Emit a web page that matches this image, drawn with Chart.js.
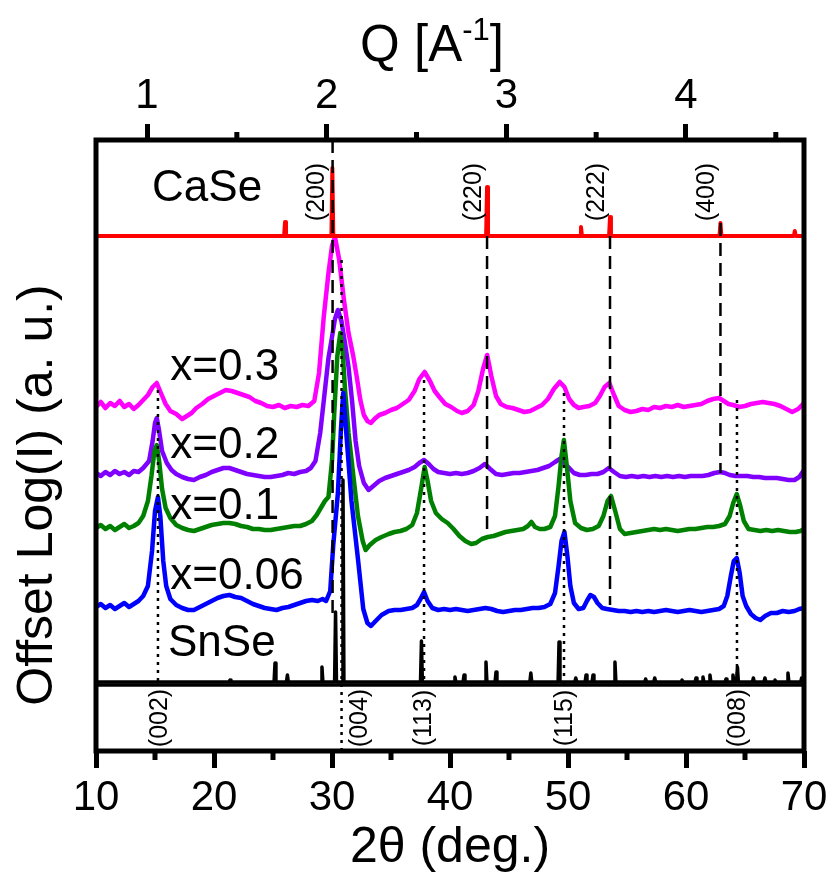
<!DOCTYPE html>
<html>
<head>
<meta charset="utf-8">
<script src="https://cdn.jsdelivr.net/npm/chart.js@4.4.0/dist/chart.umd.min.js"></script>
<style>
  html, body { margin: 0; padding: 0; background: #fff; }
  canvas { display: block; }
</style>
</head>
<body>
<canvas id="grafico" width="833" height="873"></canvas>
<script>
// eixo inferior 2θ e eixo superior Q
const ticks2t = [10, 20, 30, 40, 50, 60, 70];
const minor2t = [15, 25, 35, 45, 55, 65];
const ticksQ = [1, 2, 3, 4];
const minorQ = [1.5, 2.5, 3.5, 4.5];

// x = 0.3 (magenta)
const ang03 = [10.0, 10.4, 10.8, 11.2, 11.6, 12.0, 12.4, 12.8, 13.2, 13.6, 14.0, 14.4, 14.8, 15.15, 15.5, 15.9, 16.3, 16.8, 17.3, 17.7, 18.1, 18.5, 19.0, 19.5, 20.0, 20.5, 21.0, 21.5, 22.0, 22.5, 23.0, 23.5, 24.0, 24.5, 25.0, 25.5, 26.0, 26.5, 27.0, 27.5, 28.0, 28.5, 28.9, 29.3, 29.7, 30.0, 30.25, 30.6, 31.0, 31.4, 31.8, 32.1, 32.4, 32.7, 33.0, 33.3, 33.6, 34.0, 34.5, 35.0, 35.5, 36.0, 36.5, 37.0, 37.4, 37.85, 38.3, 38.7, 39.1, 39.6, 40.1, 40.6, 41.0, 41.5, 42.0, 42.4, 42.8, 43.15, 43.5, 43.9, 44.3, 44.8, 45.3, 45.8, 46.3, 46.8, 47.3, 47.8, 48.3, 48.8, 49.3, 49.7, 50.1, 50.5, 50.9, 51.3, 51.8, 52.3, 52.7, 53.1, 53.5, 53.9, 54.3, 54.8, 55.3, 55.8, 56.3, 56.8, 57.3, 57.8, 58.3, 58.8, 59.3, 59.8, 60.3, 60.8, 61.3, 61.8, 62.3, 62.8, 63.2, 63.6, 64.0, 64.5, 65.0, 65.5, 66.0, 66.5, 67.0, 67.5, 68.0, 68.5, 69.0, 69.5, 70.0];
const int03 = [344, 349, 343, 348, 345, 350, 344, 347, 342, 346, 351, 356, 364, 368, 358, 347, 340, 337, 332, 335, 338, 343, 347, 352, 355, 358, 361, 360, 358, 356, 354, 350, 348, 345, 344, 346, 343, 345, 344, 346, 345, 350, 378, 434, 478, 505, 514, 492, 452, 418, 395, 374, 351, 336, 330, 328, 332, 336, 338, 341, 343, 347, 351, 360, 372, 379, 370, 360, 354, 347, 344, 340, 338, 340, 346, 360, 382, 396, 375, 355, 347, 344, 343, 341, 339, 340, 343, 346, 352, 362, 369, 364, 352, 346, 343, 344, 345, 348, 355, 364, 368, 356, 345, 341, 339, 340, 342, 341, 344, 343, 345, 344, 346, 344, 345, 346, 347, 350, 352, 353, 350, 347, 346, 344, 345, 347, 348, 349, 348, 347, 345, 342, 339, 342, 348];

// x = 0.2 (roxo)
const ang02 = [10.0, 10.4, 10.8, 11.2, 11.6, 12.0, 12.4, 12.8, 13.2, 13.6, 14.0, 14.5, 14.8, 15.0, 15.15, 15.35, 15.6, 16.0, 16.4, 16.8, 17.3, 17.8, 18.3, 18.8, 19.3, 19.8, 20.3, 20.8, 21.3, 21.8, 22.3, 22.8, 23.3, 23.8, 24.3, 24.8, 25.3, 25.8, 26.3, 26.8, 27.3, 27.8, 28.2, 28.6, 29.0, 29.3, 29.7, 30.0, 30.25, 30.5, 30.8, 31.1, 31.4, 31.7, 32.0, 32.3, 32.7, 33.1, 33.5, 34.0, 34.5, 35.0, 35.5, 36.0, 36.5, 37.0, 37.4, 37.8, 38.2, 38.6, 39.0, 39.5, 40.0, 40.5, 41.0, 41.5, 42.0, 42.5, 42.95, 43.4, 43.9, 44.4, 44.9, 45.4, 45.9, 46.4, 46.9, 47.4, 47.9, 48.4, 48.9, 49.3, 49.7, 50.1, 50.5, 51.0, 51.5, 52.0, 52.5, 53.0, 53.45, 53.9, 54.4, 54.9, 55.4, 55.9, 56.4, 56.9, 57.4, 57.9, 58.4, 58.9, 59.4, 59.9, 60.4, 60.9, 61.4, 61.9, 62.4, 62.9, 63.3, 63.7, 64.2, 64.7, 65.2, 65.7, 66.2, 66.7, 67.2, 67.7, 68.2, 68.7, 69.2, 69.6, 70.0];
const int02 = [278, 275, 279, 276, 280, 277, 279, 276, 280, 279, 283, 290, 310, 328, 333, 320, 300, 288, 281, 277, 274, 272, 271, 274, 276, 279, 281, 283, 283, 281, 279, 277, 276, 275, 274, 274, 275, 276, 278, 277, 279, 280, 283, 290, 318, 350, 393, 414, 432, 441, 430, 408, 384, 350, 310, 285, 268, 261, 265, 270, 273, 275, 277, 279, 281, 284, 288, 291, 287, 282, 279, 278, 277, 278, 277, 278, 280, 283, 287, 282, 277, 276, 277, 278, 278, 279, 280, 281, 283, 285, 289, 292, 288, 283, 278, 276, 276, 277, 277, 279, 283, 279, 275, 274, 275, 274, 275, 274, 275, 274, 275, 274, 275, 274, 275, 275, 275, 276, 278, 279, 278, 276, 275, 275, 275, 274, 274, 273, 273, 273, 272, 271, 271, 274, 281];

// x = 0.1 (verde)
const ang01 = [10.0, 10.4, 10.8, 11.2, 11.6, 12.0, 12.4, 12.8, 13.2, 13.6, 14.0, 14.4, 14.7, 14.95, 15.15, 15.35, 15.6, 15.9, 16.3, 16.8, 17.3, 17.8, 18.3, 18.8, 19.3, 19.8, 20.3, 20.8, 21.3, 21.8, 22.3, 22.8, 23.3, 23.8, 24.3, 24.8, 25.3, 25.8, 26.3, 26.8, 27.3, 27.8, 28.3, 28.7, 29.1, 29.4, 29.7, 30.0, 30.2, 30.45, 30.7, 30.9, 31.1, 31.4, 31.85, 32.2, 32.6, 32.85, 33.2, 33.7, 34.2, 34.8, 35.3, 35.8, 36.3, 36.8, 37.2, 37.55, 37.85, 38.1, 38.4, 38.8, 39.3, 39.8, 40.3, 40.8, 41.3, 41.8, 42.2, 42.7, 43.2, 43.7, 44.2, 44.7, 45.2, 45.7, 46.2, 46.6, 46.9, 47.2, 47.6, 48.0, 48.5, 48.9, 49.2, 49.45, 49.65, 49.9, 50.2, 50.6, 51.1, 51.6, 52.1, 52.6, 53.0, 53.35, 53.65, 54.0, 54.4, 54.8, 55.3, 55.8, 56.3, 56.8, 57.3, 57.8, 58.3, 58.8, 59.3, 59.8, 60.3, 60.8, 61.3, 61.8, 62.3, 62.8, 63.3, 63.7, 64.0, 64.3, 64.6, 64.9, 65.3, 65.8, 66.3, 66.8, 67.3, 67.8, 68.3, 68.8, 69.3, 69.7, 70.0];
const int01 = [223, 226, 222, 225, 221, 224, 227, 223, 225, 228, 235, 250, 275, 300, 306, 290, 262, 243, 233, 226, 223, 221, 220, 222, 224, 226, 227, 228, 228, 227, 225, 224, 222, 222, 221, 221, 222, 223, 224, 225, 225, 227, 230, 236, 244, 250, 254, 290, 340, 395, 418, 400, 362, 318, 271, 235, 210, 201, 206, 211, 214, 217, 219, 220, 222, 226, 238, 262, 284, 270, 250, 238, 232, 228, 222, 215, 210, 207, 208, 212, 214, 215, 217, 219, 220, 221, 222, 225, 229, 224, 222, 222, 224, 235, 265, 295, 311, 285, 250, 228, 223, 221, 222, 225, 235, 250, 255, 240, 222, 217, 218, 219, 220, 221, 222, 221, 222, 221, 220, 221, 222, 222, 223, 224, 224, 225, 227, 235, 248, 257, 245, 230, 222, 221, 220, 221, 220, 221, 220, 219, 219, 220, 222];

// x = 0.06 (azul)
const ang006 = [10.0, 10.4, 10.8, 11.2, 11.6, 12.0, 12.4, 12.8, 13.2, 13.6, 14.0, 14.4, 14.75, 15.0, 15.25, 15.45, 15.7, 15.95, 16.3, 16.8, 17.3, 17.8, 18.3, 18.8, 19.3, 19.8, 20.3, 20.8, 21.3, 21.8, 22.3, 22.8, 23.3, 23.8, 24.3, 24.8, 25.3, 25.8, 26.3, 26.8, 27.3, 27.8, 28.3, 28.8, 29.2, 29.5, 29.85, 30.1, 30.5, 30.75, 30.95, 31.2, 31.65, 32.2, 32.65, 33.0, 33.3, 33.7, 34.2, 34.8, 35.3, 35.8, 36.3, 36.8, 37.2, 37.5, 37.8, 38.1, 38.5, 39.0, 39.5, 40.0, 40.5, 41.0, 41.5, 42.0, 42.5, 43.0, 43.5, 44.0, 44.5, 45.0, 45.5, 46.0, 46.5, 47.0, 47.5, 48.0, 48.5, 48.9, 49.2, 49.45, 49.7, 49.95, 50.2, 50.5, 50.9, 51.3, 51.6, 51.9, 52.2, 52.5, 52.9, 53.3, 53.8, 54.3, 54.8, 55.3, 55.8, 56.3, 56.8, 57.3, 57.8, 58.3, 58.8, 59.3, 59.8, 60.3, 60.8, 61.3, 61.8, 62.3, 62.8, 63.2, 63.5, 63.8, 64.05, 64.3, 64.55, 64.8, 65.1, 65.5, 65.9, 66.3, 66.7, 67.2, 67.7, 68.2, 68.7, 69.2, 69.6, 70.0];
const int006 = [144, 147, 143, 146, 142, 145, 148, 144, 147, 150, 155, 165, 200, 240, 254, 235, 190, 165, 152, 146, 143, 141, 141, 144, 147, 150, 153, 155, 156, 154, 153, 150, 147, 145, 143, 142, 141, 143, 144, 146, 148, 150, 151, 150, 152, 150, 160, 205, 258, 320, 358, 320, 250, 192, 142, 128, 125, 130, 136, 140, 141, 141, 142, 143, 146, 152, 159, 150, 143, 141, 142, 141, 142, 141, 140, 141, 142, 143, 142, 140, 139, 140, 141, 141, 142, 143, 143, 144, 147, 158, 185, 210, 219, 195, 165, 148, 142, 143, 150, 156, 154, 148, 143, 142, 141, 140, 140, 139, 140, 139, 140, 139, 140, 141, 140, 139, 140, 141, 140, 139, 140, 141, 142, 145, 155, 175, 190, 193, 178, 155, 145, 137, 133, 131, 135, 138, 138, 140, 139, 140, 142, 143];

// padrões de referência (picos em barra)
const snseAng = [21.36, 25.17, 26.22, 29.15, 30.30, 30.93, 37.58, 40.42, 41.19, 43.05, 43.90, 46.85, 49.24, 50.66, 51.53, 52.12, 53.98, 56.58, 57.35, 59.66, 60.85, 61.44, 62.03, 63.39, 63.98, 64.36, 65.71, 66.69, 67.54, 68.64, 69.80];
const snseInt = [71, 88, 76, 84, 139, 271, 110, 74, 76, 89, 79, 78, 109, 73, 76, 76, 89, 72, 73, 71, 73, 74, 76, 72, 76, 84, 73, 73, 71, 78, 73];
const snseBase = 69;
const caseAng = [26.02, 30.03, 43.14, 51.10, 53.56, 62.92, 69.22];
const caseInt = [529, 583, 564, 524, 534, 528, 520];
const caseBase = 515;
const separador = 66;

// linhas guia
const caseRefAng = [30.05, 43.14, 53.56, 62.92];
const caseRefTop = [611, 515, 515, 528];
const caseRefBottom = [134, 221, 146, 278];
const snseRefAng = [15.25, 30.81, 37.80, 49.66, 64.32];
const snseRefTop = [361, 491, 371, 358, 351];
const snseRefBottom = [66, 0, 66, 66, 66];

// rótulos
const serieNomes = ["CaSe", "x=0.3", "x=0.2", "x=0.1", "x=0.06", "SnSe"];
const serieX = [14.75, 16.3, 16.3, 16.3, 16.3, 16.1];
const serieY = [562, 383, 305, 244, 174, 107];
const hklTop = ["(200)", "(220)", "(222)", "(400)"];
const hklTopX = [28.73, 42.03, 52.46, 61.78];
const hklTopY = 559;
const hklBottom = ["(002)", "(004)", "(113)", "(115)", "(008)"];
const hklBottomX = [15.42, 32.37, 37.80, 49.75, 64.40];
const hklBottomY = 33;

const FONTE = '"Liberation Sans", Arial, sans-serif';
Chart.defaults.font.family = FONTE;
Chart.defaults.color = "#000";

function serie(angs, vals) {
  return angs.map((a, i) => ({ x: a, y: vals[i] }));
}

function barras(angs, vals, base, meia) {
  const pts = [{ x: 10, y: base }];
  angs.forEach((a, i) => {
    pts.push({ x: a - meia, y: base });
    pts.push({ x: a, y: vals[i] });
    pts.push({ x: a + meia, y: base });
  });
  pts.push({ x: 70, y: base });
  return pts;
}

const datasets = [];
caseRefAng.forEach((a, i) => {
  datasets.push({ data: [{ x: a, y: caseRefTop[i] }, { x: a, y: caseRefBottom[i] }],
    borderColor: "#000", borderWidth: 2.5, borderDash: [13, 7] });
});
snseRefAng.forEach((a, i) => {
  datasets.push({ data: [{ x: a, y: snseRefTop[i] }, { x: a, y: snseRefBottom[i] }],
    borderColor: "#000", borderWidth: 2.5, borderDash: [3, 5] });
});
datasets.push({ data: [{ x: 10, y: separador }, { x: 70, y: separador }], borderColor: "#000", borderWidth: 3.5 });
datasets.push({ data: barras(snseAng, snseInt, snseBase, 0.08), borderColor: "#000", borderWidth: 3.5 });
datasets.push({ data: barras(caseAng, caseInt, caseBase, 0.08), borderColor: "#ff0000", borderWidth: 4 });
datasets.push({ data: serie(ang006, int006), borderColor: "#0000ff", borderWidth: 4.5 });
datasets.push({ data: serie(ang01, int01), borderColor: "#008000", borderWidth: 4.5 });
datasets.push({ data: serie(ang02, int02), borderColor: "#8000ff", borderWidth: 4.5 });
datasets.push({ data: serie(ang03, int03), borderColor: "#ff00ff", borderWidth: 4.5 });

const decor = {
  id: "decor",
  afterDraw(chart) {
    const { ctx, chartArea: a, scales } = chart;
    const sx = scales.x, sy = scales.y, sq = scales.q;
    ctx.save();
    ctx.strokeStyle = "#000";
    ctx.fillStyle = "#000";

    // ticks menores
    ctx.lineWidth = 5;
    ctx.beginPath();
    minor2t.forEach(v => {
      const px = sx.getPixelForValue(v);
      ctx.moveTo(px, a.bottom); ctx.lineTo(px, a.bottom + 9);
    });
    minorQ.forEach(v => {
      const px = sq.getPixelForValue(v);
      ctx.moveTo(px, a.top); ctx.lineTo(px, a.top - 8);
    });
    ctx.stroke();

    // moldura
    ctx.lineWidth = 5;
    ctx.strokeRect(a.left, a.top, a.right - a.left, a.bottom - a.top);

    // nomes das amostras
    ctx.font = "44px " + FONTE;
    ctx.textAlign = "left";
    ctx.textBaseline = "middle";
    serieNomes.forEach((t, i) => {
      ctx.fillText(t, sx.getPixelForValue(serieX[i]), sy.getPixelForValue(serieY[i]));
    });

    // índices de Miller
    ctx.font = "25px " + FONTE;
    ctx.textAlign = "center";
    const girado = (t, px, py) => {
      ctx.save();
      ctx.translate(px, py);
      ctx.rotate(-Math.PI / 2);
      ctx.fillText(t, 0, 0);
      ctx.restore();
    };
    hklTop.forEach((t, i) => girado(t, sx.getPixelForValue(hklTopX[i]), sy.getPixelForValue(hklTopY)));
    hklBottom.forEach((t, i) => girado(t, sx.getPixelForValue(hklBottomX[i]), sy.getPixelForValue(hklBottomY)));

    // título do eixo y
    ctx.font = "50px " + FONTE;
    girado("Offset Log(I) (a. u.)", 38, 495);

    // título do eixo Q com expoente
    const grande = "51px " + FONTE, pequeno = "31px " + FONTE;
    ctx.font = grande;
    const w1 = ctx.measureText("Q [A").width;
    const w3 = ctx.measureText("]").width;
    ctx.font = pequeno;
    const w2 = ctx.measureText("-1").width;
    let x0 = 432 - (w1 + w2 + w3) / 2;
    const yb = 47;
    ctx.textAlign = "left";
    ctx.font = grande;
    ctx.fillText("Q [A", x0, yb);
    ctx.font = pequeno;
    ctx.fillText("-1", x0 + w1, yb - 16);
    ctx.font = grande;
    ctx.fillText("]", x0 + w1 + w2, yb);
    ctx.restore();
  }
};

new Chart(document.getElementById("grafico"), {
  type: "line",
  data: { datasets },
  options: {
    responsive: false,
    animation: false,
    devicePixelRatio: 1,
    layout: { padding: { left: 0, right: 29, top: 0, bottom: 0 } },
    plugins: { legend: { display: false }, tooltip: { enabled: false } },
    elements: {
      point: { radius: 0 },
      line: { tension: 0, borderJoinStyle: "round", borderCapStyle: "butt" }
    },
    scales: {
      x: {
        type: "linear", position: "bottom", min: 10, max: 70,
        afterBuildTicks: s => { s.ticks = ticks2t.map(v => ({ value: v })); },
        afterFit: s => { s.height = 122; },
        ticks: { font: { size: 42 }, color: "#000", padding: 5, maxRotation: 0 },
        grid: { drawOnChartArea: false, drawTicks: true, tickLength: 17, tickWidth: 5, tickColor: "#000" },
        border: { display: false },
        title: { display: true, text: "2θ (deg.)", font: { size: 50, lineHeight: 1 }, padding: 0, color: "#000" }
      },
      q: {
        type: "linear", axis: "x", position: "top", min: 0.716, max: 4.657,
        afterBuildTicks: s => { s.ticks = ticksQ.map(v => ({ value: v })); },
        afterFit: s => { s.height = 140; },
        ticks: { font: { size: 42 }, color: "#000", padding: 2, maxRotation: 0 },
        grid: { drawOnChartArea: false, drawTicks: true, tickLength: 16, tickWidth: 5, tickColor: "#000" },
        border: { display: false }
      },
      y: {
        type: "linear", position: "left", min: 0, max: 611,
        afterFit: s => { s.width = 96; },
        ticks: { display: false },
        grid: { display: false },
        border: { display: false }
      }
    }
  },
  plugins: [decor]
});
</script>
</body>
</html>
